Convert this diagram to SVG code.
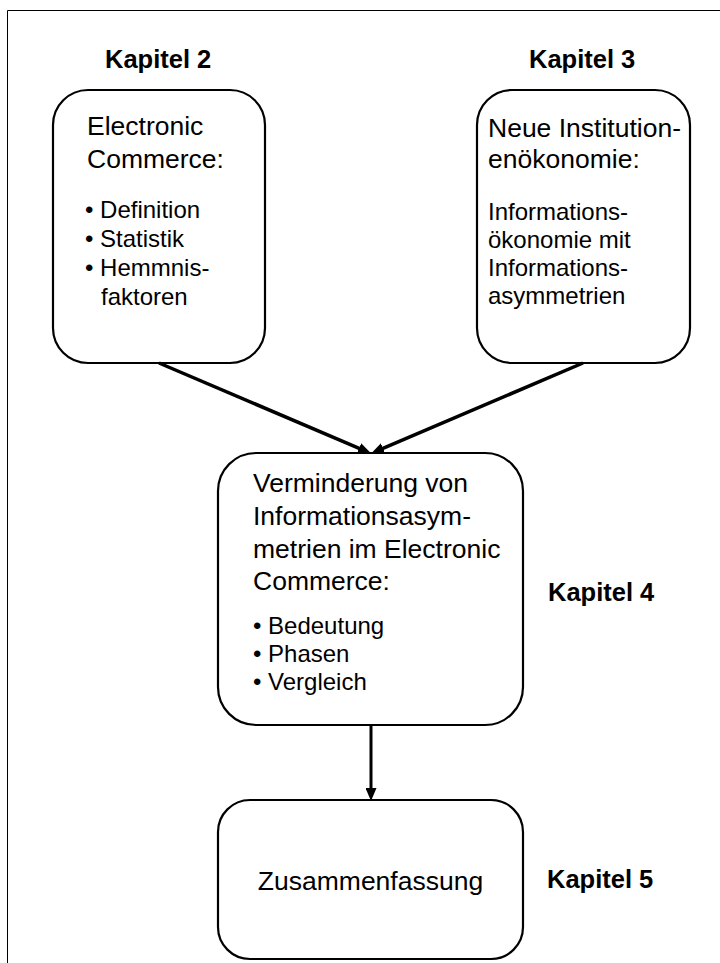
<svg xmlns="http://www.w3.org/2000/svg" width="720" height="963" viewBox="0 0 720 963">
<style>
  .box { fill: #fff; stroke: #000; stroke-width: 2.2; }
  .t { font-family: "Liberation Sans", Arial, sans-serif; fill: #000; }
  .h { font-size: 26.5px; }
  .b { font-size: 24px; }
  .k { font-size: 25.5px; font-weight: bold; }
  .conn { stroke: #000; fill: none; }
</style>
<defs>
  <marker id="ah" markerUnits="userSpaceOnUse" markerWidth="13" markerHeight="11" refX="4" refY="5.5" orient="auto">
    <path d="M0,0 L13,5.5 L0,11 z" fill="#000"/>
  </marker>
</defs>
<rect x="0" y="0" width="720" height="963" fill="#fff"/>
<path d="M7.5,963 V10.5 H720" fill="none" stroke="#000" stroke-width="1"/>

<g id="label-k2"><text class="t k" x="105" y="68">Kapitel 2</text></g>
<g id="label-k3"><text class="t k" x="529" y="68">Kapitel 3</text></g>
<g id="label-k4"><text class="t k" x="548" y="601">Kapitel 4</text></g>
<g id="label-k5"><text class="t k" x="547" y="888">Kapitel 5</text></g>

<g id="node-ec">
  <rect class="box" x="53" y="90" width="212" height="273" rx="35" ry="35"/>
  <text class="t h" x="87" y="135">Electronic</text>
  <text class="t h" x="87" y="168">Commerce:</text>
  <text class="t b" x="85" y="218">• Definition</text>
  <text class="t b" x="85" y="247">• Statistik</text>
  <text class="t b" x="85" y="276">• Hemmnis-</text>
  <text class="t b" x="101" y="305">faktoren</text>
</g>

<g id="node-nio">
  <rect class="box" x="477" y="90" width="213" height="273" rx="35" ry="35"/>
  <text class="t h" x="488" y="137">Neue Institution-</text>
  <text class="t h" x="488" y="168">enökonomie:</text>
  <text class="t b" x="488" y="220">Informations-</text>
  <text class="t b" x="488" y="248">ökonomie mit</text>
  <text class="t b" x="488" y="276">Informations-</text>
  <text class="t b" x="488" y="304">asymmetrien</text>
</g>

<g id="node-vi">
  <rect class="box" x="218" y="453" width="305" height="272" rx="38" ry="38"/>
  <text class="t h" x="253" y="492">Verminderung von</text>
  <text class="t h" x="253" y="525">Informationsasym-</text>
  <text class="t h" x="253" y="558">metrien im Electronic</text>
  <text class="t h" x="253" y="590">Commerce:</text>
  <text class="t b" x="253" y="634">• Bedeutung</text>
  <text class="t b" x="253" y="662">• Phasen</text>
  <text class="t b" x="253" y="690">• Vergleich</text>
</g>

<g id="node-zf">
  <rect class="box" x="218" y="800" width="305" height="159" rx="32" ry="32"/>
  <text class="t h" x="370.5" y="890" text-anchor="middle">Zusammenfassung</text>
</g>

<g id="connectors">
  <line class="conn" x1="159" y1="363" x2="362.7" y2="449.8" stroke-width="3.5" marker-end="url(#ah)"/>
  <line class="conn" x1="583" y1="363" x2="379.4" y2="449.9" stroke-width="3.5" marker-end="url(#ah)"/>
  <line class="conn" x1="371" y1="725" x2="371" y2="792" stroke-width="3" marker-end="url(#ah)"/>
</g>
</svg>
